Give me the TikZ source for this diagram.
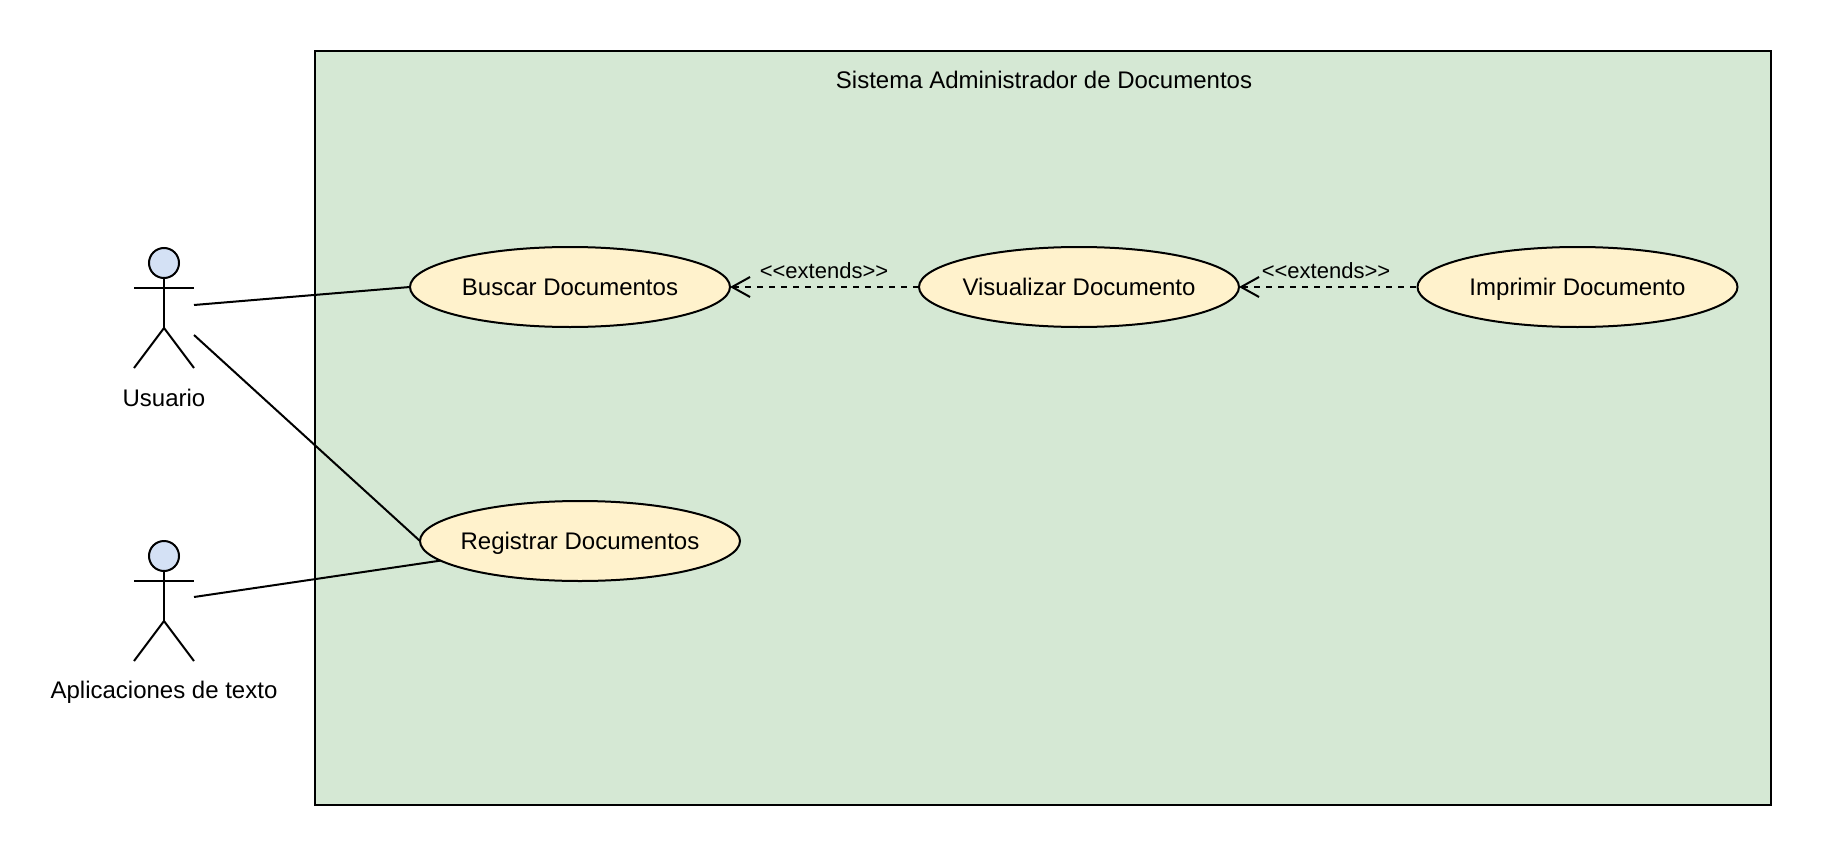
\documentclass[tikz,border=0pt]{standalone}
\usepackage{fontspec}
\setmainfont{Liberation Sans}
\usetikzlibrary{arrows.meta, shapes.geometric}
\definecolor{sysgreen}{HTML}{D5E8D4}
\definecolor{caseyellow}{HTML}{FFF2CC}
\definecolor{headblue}{HTML}{D4E1F5}
\tikzset{
	usecase/.style={ellipse, draw, fill=caseyellow, minimum width=320pt, minimum height=80pt, inner xsep=-40pt, inner ysep=0pt, outer sep=0pt, text height=22pt, text depth=5pt, font=\fontsize{24}{28}\selectfont},
	sysbox/.style={rectangle, draw, fill=sysgreen, minimum width=1456pt, minimum height=754pt, inner sep=0pt},
	headcircle/.style={circle, draw, fill=headblue, minimum size=30pt, inner sep=0pt},
	plaintext/.style={inner sep=0pt, text height=22pt, text depth=5pt, font=\fontsize{24}{28}\selectfont},
	edgetext/.style={inner sep=0pt, font=\fontsize{22}{26}\selectfont},
	extendsline/.style={dash pattern=on 6pt off 6pt, {Straight Barb[length=18pt,width=20pt,line width=2pt]}-},
}
\begin{document}
\begin{tikzpicture}[x=1pt, y=-1pt, line width=2pt]
	\useasboundingbox (0,0) rectangle (1822,856);

	% System box
	\node[sysbox] (system) at (1043,428) {};
	\node[plaintext] (systitle) at (1044,80.5) {Sistema Administrador de Documentos};

	% Use cases
	\node[usecase] (buscar) at (570,287) {Buscar Documentos};
	\node[usecase] (visualizar) at (1079,287) {Visualizar Documento};
	\node[usecase] (imprimir) at (1577.5,287) {Imprimir Documento};
	\node[usecase] (registrar) at (580,541) {Registrar Documentos};

	% Actor 1
	\begin{scope}[shift={(134,248)}]
		\node[headcircle] (head1) at (30,15) {};
		\coordinate (arml1) at (0,40);
		\coordinate (armr1) at (60,40);
		\coordinate (hip1) at (30,80);
		\coordinate (footl1) at (0,120);
		\coordinate (footr1) at (60,120);
		\draw (head1) -- (hip1);
		\draw (arml1) -- (armr1);
		\draw (footl1) -- (hip1) -- (footr1);
		\node[plaintext] (usuario) at (30,150) {Usuario};
		\coordinate (out1a) at (60,57);
		\coordinate (out1b) at (60,87);
	\end{scope}

	% Actor 2
	\begin{scope}[shift={(134,541)}]
		\node[headcircle] (head2) at (30,15) {};
		\coordinate (arml2) at (0,40);
		\coordinate (armr2) at (60,40);
		\coordinate (hip2) at (30,80);
		\coordinate (footl2) at (0,120);
		\coordinate (footr2) at (60,120);
		\draw (head2) -- (hip2);
		\draw (arml2) -- (armr2);
		\draw (footl2) -- (hip2) -- (footr2);
		\node[plaintext] (aplicaciones) at (30,149) {Aplicaciones de texto};
		\coordinate (out2) at (60,56);
	\end{scope}

	% Associations
	\draw (out1a) -- (buscar.west);
	\draw (out1b) -- (registrar.west);
	\draw (out2) -- (registrar.188);

	% Extends
	\draw[extendsline] (buscar.east) -- (visualizar.west);
	\draw[extendsline] (visualizar.east) -- (imprimir.west);
	\node[edgetext] (ext1) at (824,271) {<{}<extends>{}>};
	\node[edgetext] (ext2) at (1326,271) {<{}<extends>{}>};
\end{tikzpicture}
\end{document}
